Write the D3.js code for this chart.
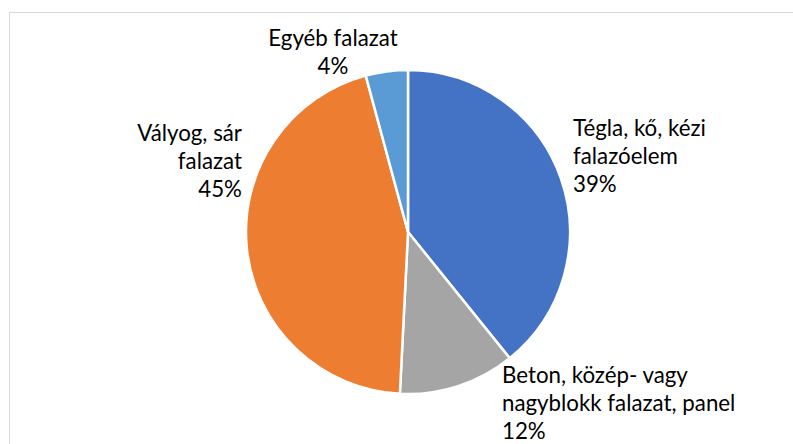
<!DOCTYPE html>
<html>
<head>
<meta charset="utf-8">
<script src="https://cdn.jsdelivr.net/npm/d3@7"></script>
<style>
  body { margin: 0; background: #fff; }
  svg { display: block; }
  text { font-family: Lato, "Open Sans", sans-serif; fill: #000; }
</style>
</head>
<body>
<div id="chart"></div>
<script>
// data
var categories = ["Tégla, kő, kézi falazóelem", "Beton, közép- vagy nagyblokk falazat, panel", "Vályog, sár falazat", "Egyéb falazat"];
var values = [39.2, 11.6, 45.0, 4.2];
var percentLabels = ["39%", "12%", "45%", "4%"];
var colors = ["#4472C4", "#A5A5A5", "#ED7D31", "#5B9BD5"];

// label lines (how excel wrapped them)
var labelLines = [
    ["Tégla, kő, kézi", "falazóelem"],
    ["Beton, közép- vagy", "nagyblokk falazat, panel"],
    ["Vályog, sár", "falazat"],
    ["Egyéb falazat"]
];

var width = 793, height = 444;
var cx = 408, cy = 232, radius = 162;

var svg = d3.select('#chart')
    .append('svg')
    .attr('width', width)
    .attr('height', height);

// chart area border
svg.append('rect')
    .attr('x', 9.5)
    .attr('y', 12.5)
    .attr('width', width)
    .attr('height', height)
    .attr('fill', 'none')
    .attr('stroke', '#d9d9d9')
    .attr('stroke-width', 1);

var pie = d3.pie().sort(null).value(function (d) { return d; });
var arc = d3.arc().innerRadius(0).outerRadius(radius);

var g = svg.append('g')
    .attr('transform', 'translate(' + cx + ',' + cy + ')');

var arcs = pie(values);

g.selectAll('path')
    .data(arcs)
    .enter()
    .append('path')
    .attr('d', arc)
    .attr('fill', function (d, i) { return colors[i]; })
    .attr('stroke', '#fff')
    .attr('stroke-width', 2.5)
    .attr('stroke-linejoin', 'round');

// label placement, relative to pie centre
var labelPos = [
    {dx: 165, dy: -96, anchor: 'start'},
    {dx: 94, dy: 151, anchor: 'start'},
    {dx: -166, dy: -91, anchor: 'end'},
    {dx: -75, dy: -186, anchor: 'middle'}
];
var lineH = 28;

var labels = g.selectAll('.label')
    .data(arcs)
    .enter()
    .append('text')
    .attr('class', 'label')
    .attr('font-size', 22.3)
    .attr('text-anchor', function (d, i) { return labelPos[i].anchor; })
    .attr('transform', function (d, i) {
        return 'translate(' + labelPos[i].dx + ',' + labelPos[i].dy + ')';
    });

labels.each(function (d, i) {
    var t = d3.select(this);
    var lines = labelLines[i].concat([percentLabels[i]]);
    lines.forEach(function (l, j) {
        t.append('tspan')
            .attr('x', 0)
            .attr('y', j * lineH)
            .text(l);
    });
});
</script>
</body>
</html>
